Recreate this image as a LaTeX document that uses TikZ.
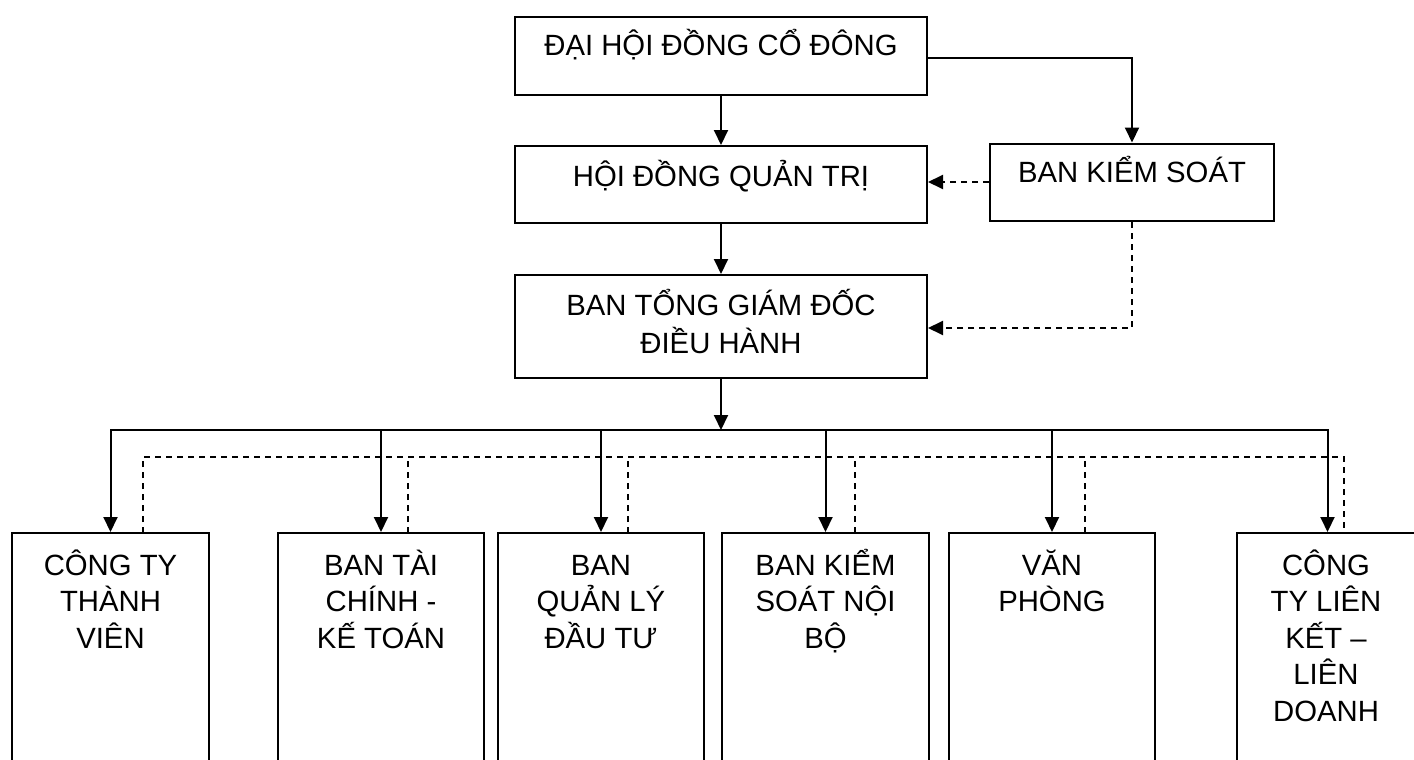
\documentclass[tikz,border=0pt]{standalone}
\usepackage{fontspec}
\setmainfont{Liberation Sans}
\usetikzlibrary{arrows.meta}
\newcommand{\fst}{\rule{0pt}{30pt}}
\begin{document}
\begin{tikzpicture}[x=1pt,y=-1pt,
  box/.style={draw, line width=2pt, inner sep=0pt, rectangle},
  lbl/.style={anchor=north, inner sep=0pt, align=center, font=\fontsize{29.3}{36.5}\selectfont},
  arr/.style={line width=2pt, -{Triangle[length=15pt,width=14pt]}},
  dsh/.style={line width=2pt, dash pattern=on 6pt off 5pt},
  darr/.style={dsh, -{Triangle[length=15pt,width=14pt]}}]
\useasboundingbox (0,0) rectangle (1414,760);
\clip (0,0) rectangle (1414,760);
% boxes
\node[box, minimum width=412, minimum height=77.5] (dh) at (721,55.75) {};
\node[box, minimum width=412, minimum height=77] (hd) at (721,184.5) {};
\node[box, minimum width=284, minimum height=77.5] (bks) at (1132,182.25) {};
\node[box, minimum width=412, minimum height=103] (bt) at (721,326.5) {};
\node[box, minimum width=197, minimum height=267] (b1) at (110.5,666.5) {};
\node[box, minimum width=206, minimum height=267] (b2) at (381,666.5) {};
\node[box, minimum width=206, minimum height=267] (b3) at (601,666.5) {};
\node[box, minimum width=207, minimum height=267] (b4) at (825.5,666.5) {};
\node[box, minimum width=206, minimum height=267] (b5) at (1052,666.5) {};
\node[box, minimum width=181, minimum height=267] (b6) at (1327.5,666.5) {};
% texts
\node[lbl] (t0) at (721,25) {\fst ĐẠI HỘI ĐỒNG CỔ ĐÔNG};
\node[lbl] (t1) at (721,156) {\fst HỘI ĐỒNG QUẢN TRỊ};
\node[lbl] (t2) at (1132,152) {\fst BAN KIỂM SOÁT};
\node[lbl, font=\fontsize{29.3}{38}\selectfont] (t3) at (721,285) {\fst BAN TỔNG GIÁM ĐỐC\\ĐIỀU HÀNH};
\node[lbl] (u1) at (110.5,545) {\fst CÔNG TY\\THÀNH\\VIÊN};
\node[lbl] (u2) at (381,545) {\fst BAN TÀI\\CHÍNH -\\KẾ TOÁN};
\node[lbl] (u3) at (601,545) {\fst BAN\\QUẢN LÝ\\ĐẦU TƯ};
\node[lbl] (u4) at (825.5,545) {\fst BAN KIỂM\\SOÁT NỘI\\BỘ};
\node[lbl] (u5) at (1052,545) {\fst VĂN\\PHÒNG};
\node[lbl] (u6) at (1326,545) {\fst CÔNG\\TY LIÊN\\KẾT –\\LIÊN\\DOANH};
% top connectors
\draw[arr] (dh.south) -- (hd.north);
\draw[arr] (hd.south) -- (bt.north);
\draw[arr] (dh.east |- 0,58) -| (bks.north);
\draw[darr] (bks.west |- 0,182) -- (hd.east |- 0,182);
\draw[darr] (bks.south) |- (bt.east |- 0,328);
% bus
\coordinate (j) at (721,430);
\draw[arr] (bt.south) -- (j);
\foreach \b in {b1,b2,b3,b4,b5,b6}{
  \draw[arr] (j) -| (\b.north);
}
% dashed bus
\coordinate (dy) at (0,457);
\coordinate (d1) at (143,533);
\coordinate (d2) at (408,533);
\coordinate (d3) at (628,533);
\coordinate (d4) at (855,533);
\coordinate (d5) at (1085,533);
\coordinate (d6) at (1344,533);
\draw[dsh] (d1) -- (d1 |- dy) -- (d6 |- dy) -- (d6);
\foreach \d in {d2,d3,d4,d5}{
  \draw[dsh] (\d) -- (\d |- dy);
}
\end{tikzpicture}
\end{document}
